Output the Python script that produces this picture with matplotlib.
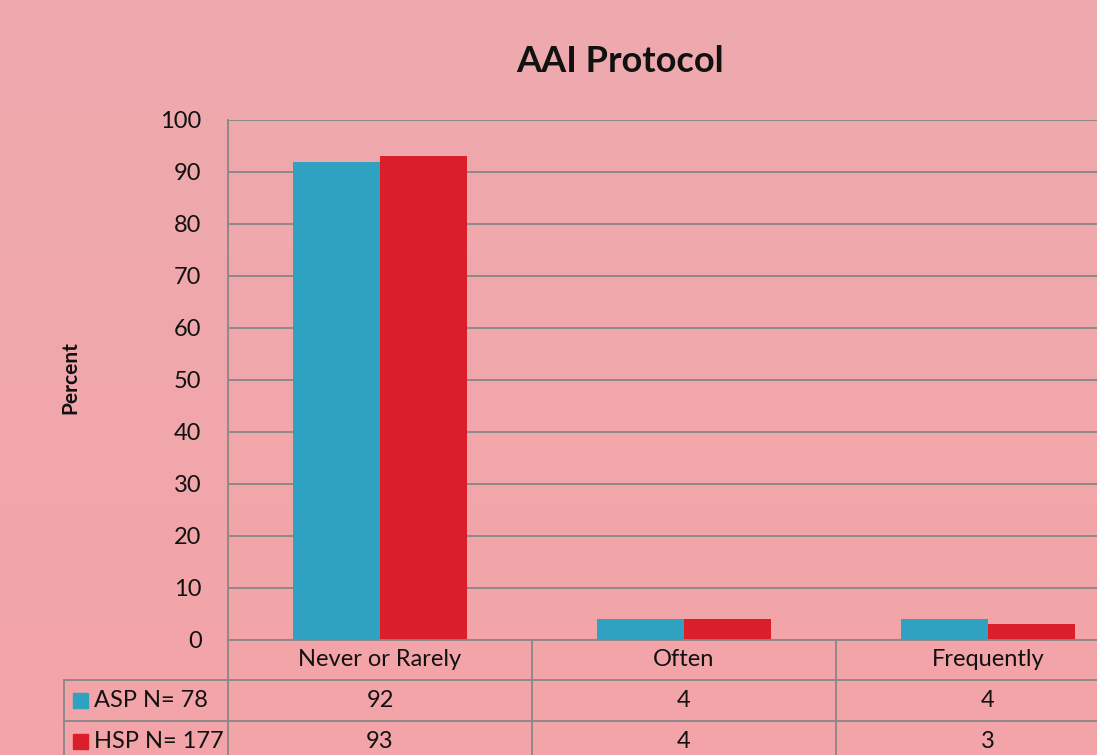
import numpy as np
import matplotlib
matplotlib.use("Agg")
import matplotlib.pyplot as plt
from matplotlib.patches import Rectangle
from matplotlib.lines import Line2D

categories = ["Never or Rarely", "Often", "Frequently"]
series_names = ["ASP N= 78", "HSP N= 177"]
asp_values = [92, 4, 4]
hsp_values = [93, 4, 3]
yticks = [0, 10, 20, 30, 40, 50, 60, 70, 80, 90, 100]

colors = ["#2EA2C0", "#DA1F2A"]
grid_c = "#878787"
FONT = "Lato"
plt.rcParams["font.family"] = [FONT, "DejaVu Sans"]
FS = 17

W, H = 1097, 755
fig = plt.figure(figsize=(W / 100, H / 100), dpi=100)

# gradient background
bg = fig.add_axes([0, 0, 1, 1], zorder=-10)
top = np.array([0xED, 0xAA, 0xAE]) / 255
bot = np.array([0xF4, 0xA4, 0xA8]) / 255
t = np.linspace(0, 1, 256)[:, None, None]
grad = top * (1 - t) + bot * t
grad = np.repeat(grad, 2, axis=1)
bg.imshow(grad, aspect="auto", extent=[0, 1, 0, 1], origin="upper")
bg.set_xlim(0, 1); bg.set_ylim(0, 1)
bg.axis("off")

def fx(px):
    return px / W

def fy(py):
    return 1 - py / H

x_left, x_right = 228, 1140
y_top, y_bot = 120, 640
ax = fig.add_axes([fx(x_left), fy(y_bot), fx(x_right) - fx(x_left), fy(y_top) - fy(y_bot)])
ax.set_facecolor("none")
n = len(categories)
ax.set_xlim(-0.5, n - 0.5)
ax.set_ylim(0, 100)
x = np.arange(n)
bw = 87 / 304
ax.bar(x - bw / 2, asp_values, bw, color=colors[0], zorder=3)
ax.bar(x + bw / 2, hsp_values, bw, color=colors[1], zorder=3)
ax.set_yticks(yticks)
ax.set_yticklabels([str(v) for v in yticks], fontsize=FS)
ax.tick_params(axis="y", length=0, pad=19, labelcolor="#111111")
ax.set_xticks([])
ax.grid(axis="y", color=grid_c, linewidth=1.3, zorder=0)
for s in ["top", "right", "bottom"]:
    ax.spines[s].set_visible(False)
ax.spines["left"].set_color(grid_c)
ax.spines["left"].set_linewidth(1.3)

fig.text(fx(70), fy(378), "Percent", fontsize=15, fontweight="bold", rotation=90,
         ha="center", va="center", color="#111111")
fig.text(fx(620), fy(62), "AAI Protocol", fontsize=26, fontweight="bold",
         ha="center", va="center", color="#111111")

# data table
col_edges = [228, 532, 836, 1140]
row_edges = [640, 680, 721, 762]
tleft = 64
lw = 1.3
lines = []
lines.append(Line2D([fx(228), fx(1140)], [fy(640), fy(640)]))
for r in row_edges[1:]:
    lines.append(Line2D([fx(tleft), fx(1140)], [fy(r), fy(r)]))
lines.append(Line2D([fx(tleft), fx(tleft)], [fy(680), fy(762)]))
for c in col_edges[:-1]:
    lines.append(Line2D([fx(c), fx(c)], [fy(640), fy(762)]))
for l in lines:
    l.set_color(grid_c); l.set_linewidth(lw)
    fig.add_artist(l)

for i, cat in enumerate(categories):
    cx = (col_edges[i] + col_edges[i + 1]) / 2
    fig.text(fx(cx), fy(660), cat, fontsize=FS, ha="center", va="center", color="#111111")
for r, (name, vals) in enumerate(zip(series_names, [asp_values, hsp_values])):
    cy = (row_edges[r + 1] + row_edges[r + 2]) / 2
    fig.add_artist(Rectangle((fx(73), fy(cy + 7.5)), fx(15), 15 / H, color=colors[r],
                             transform=fig.transFigure))
    fig.text(fx(94), fy(cy), name, fontsize=FS, ha="left", va="center", color="#111111")
    for i, v in enumerate(vals):
        cx = (col_edges[i] + col_edges[i + 1]) / 2
        fig.text(fx(cx), fy(cy), str(v), fontsize=FS, ha="center", va="center", color="#111111")

fig.savefig("out.png", dpi=100)
